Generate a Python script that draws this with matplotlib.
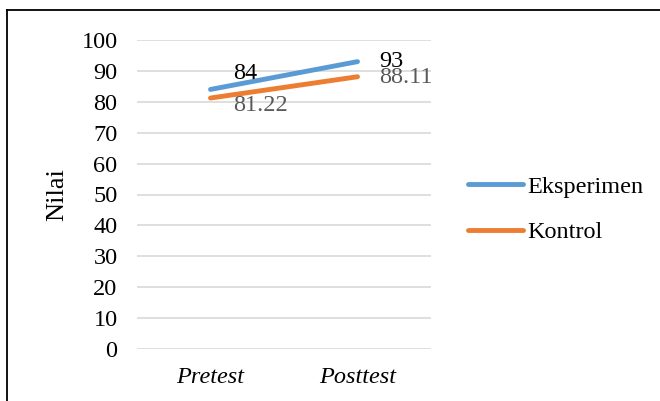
import matplotlib.pyplot as plt
from matplotlib.lines import Line2D

# data
categories = ["Pretest", "Posttest"]
eksperimen = [84, 93]
kontrol = [81.22, 88.11]
eksperimen_labels = ["84", "93"]
kontrol_labels = ["81.22", "88.11"]
yticks = list(range(0, 101, 10))

FS = 17.5
plt.rcParams.update({"font.family": ["Liberation Serif", "DejaVu Serif"], "font.size": FS})

fig = plt.figure(figsize=(6.6, 4.01), dpi=100)
ax = fig.add_axes([137 / 660, 52 / 401, 294 / 660, 309 / 401])

x = range(len(categories))
c_exp = "#5B9BD5"
c_kon = "#ED7D31"
ax.plot(x, eksperimen, color=c_exp, linewidth=3.5, solid_capstyle="round", label="Eksperimen", zorder=3)
ax.plot(x, kontrol, color=c_kon, linewidth=3.5, solid_capstyle="round", label="Kontrol", zorder=3)

# data labels (Excel-like placement to the right of the points)
exp_offsets = [(23, 16), (22, 0)]
kon_offsets = [(23, -7), (22, -1)]
for i in x:
    ax.annotate(eksperimen_labels[i], (i, eksperimen[i]), xytext=exp_offsets[i],
                textcoords="offset pixels", ha="left", va="center", color="#000000", fontsize=FS)
    ax.annotate(kontrol_labels[i], (i, kontrol[i]), xytext=kon_offsets[i],
                textcoords="offset pixels", ha="left", va="center", color="#595959", fontsize=FS)

ax.set_xlim(-0.5, 1.5)
ax.set_ylim(0, 100)
ax.set_yticks(yticks)
ax.set_xticks(list(x))
ax.set_xticklabels(categories, fontstyle="italic")
ax.tick_params(axis="both", length=0)
ax.tick_params(axis="y", pad=14)
ax.tick_params(axis="x", pad=13)
ax.grid(axis="y", color="#D9D9D9", linewidth=1.2)
ax.set_axisbelow(True)
for s in ax.spines.values():
    s.set_visible(False)
ax.set_ylabel("Nilai", fontsize=19)
ax.yaxis.set_label_coords(-0.235, 0.5)

handles = [Line2D([], [], color=c_exp, linewidth=3.5, solid_capstyle="round"),
           Line2D([], [], color=c_kon, linewidth=3.5, solid_capstyle="round")]
fig.legend(handles, ["Eksperimen", "Kontrol"], loc="center left",
           bbox_to_anchor=(446 / 660, 1 - 209.5 / 401), frameon=False,
           handlelength=2.26, handletextpad=0.2, labelspacing=0.97, fontsize=FS)

# chart border (left and top only visible)
fig.add_artist(Line2D([7 / 660, 7 / 660], [0, 1 - 10 / 401], color="black", linewidth=1.3,
                      transform=fig.transFigure))
fig.add_artist(Line2D([7 / 660, 1], [1 - 10 / 401, 1 - 10 / 401], color="black", linewidth=1.3,
                      transform=fig.transFigure))

fig.savefig("out.png", dpi=100)
